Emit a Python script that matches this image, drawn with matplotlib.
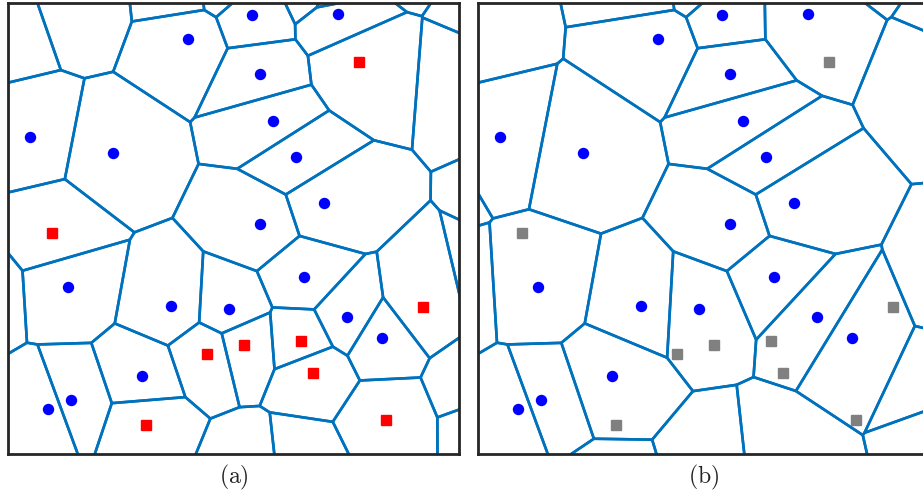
import numpy as np
import matplotlib
matplotlib.use("Agg")
import matplotlib.pyplot as plt
from matplotlib.collections import PolyCollection

plt.rcParams['mathtext.fontset'] = 'cm'

# sites inside the unit window
blue_x = [0.541, 0.7317, 0.3984, 0.5581, 0.0481, 0.2335, 0.5876, 0.6379, 0.7007, 0.5588,
          0.133, 0.3621, 0.4894, 0.6557, 0.7523, 0.8286, 0.2971, 0.1404, 0.088]
blue_y = [0.9716, 0.9745, 0.9184, 0.8421, 0.7024, 0.6663, 0.7373, 0.6581, 0.5561, 0.5089,
          0.3692, 0.3277, 0.3204, 0.3914, 0.302, 0.2554, 0.1718, 0.1186, 0.0993]
red_x = [0.7783, 0.0982, 0.9202, 0.4412, 0.5239, 0.649, 0.6763, 0.306, 0.8375]
red_y = [0.8687, 0.4896, 0.3255, 0.2206, 0.2406, 0.2501, 0.1792, 0.0632, 0.0736]

# generators lying outside the window (not drawn, only their cells show)
out_blue_x = [-0.0113, 0.38, 0.4767, 0.8492, 1.0898, 1.0421, 1.0854, 1.0366, 1.0665,
              0.5404, 0.6463, -0.0634, -0.133, 0.2927]
out_blue_y = [0.9508, 1.0339, 1.0455, 1.1275, 0.9623, 0.8481, 0.3647, 0.1574, 0.0743,
              -0.0328, -0.0211, 0.357, 0.5953, -0.1075]
out_red_x = [0.1552, 0.6818, 0.7228, 1.173]
out_red_y = [1.0089, 1.0384, 1.0204, 0.551]

edge_col = '#0072BD'
frame_col = '#262626'


def clip_halfplane(poly, m, n):
    # keep the part of poly with (p - m).n <= 0
    out = []
    for k in range(len(poly)):
        a = poly[k]
        b = poly[(k + 1) % len(poly)]
        da = np.dot(a - m, n)
        db = np.dot(b - m, n)
        if da <= 0:
            out.append(a)
        if da * db < 0:
            t = da / (da - db)
            out.append(a + t * (b - a))
    return out


def voronoi_cells(x, y, lo=-1.0, hi=2.0):
    pts = np.column_stack([x, y])
    cells = []
    for i, p in enumerate(pts):
        poly = [np.array([lo, lo]), np.array([hi, lo]),
                np.array([hi, hi]), np.array([lo, hi])]
        for j, q in enumerate(pts):
            if i == j:
                continue
            poly = clip_halfplane(poly, (p + q) / 2, q - p)
            if not poly:
                break
        if poly:
            cells.append(np.array(poly))
    return cells


fig = plt.figure(figsize=(9.23, 4.95), dpi=100)
W, H = 923, 495
ax_a = fig.add_axes([8 / W, (H - 453.5) / H, 451 / W, 451 / H])
ax_b = fig.add_axes([478 / W, (H - 453.5) / H, 451 / W, 451 / H])

# (a) all sites
xa = blue_x + red_x + out_blue_x + out_red_x
ya = blue_y + red_y + out_blue_y + out_red_y
ax_a.add_collection(PolyCollection(voronoi_cells(xa, ya), facecolors='none',
                                   edgecolors=edge_col, linewidths=1.9))
ax_a.plot(blue_x, blue_y, 'o', color='blue', ms=7.2, zorder=3)
ax_a.plot(red_x, red_y, 's', color='red', ms=7.2, zorder=3)

# (b) red sites removed
xb = blue_x + out_blue_x
yb = blue_y + out_blue_y
ax_b.add_collection(PolyCollection(voronoi_cells(xb, yb), facecolors='none',
                                   edgecolors=edge_col, linewidths=1.9))
ax_b.plot(blue_x, blue_y, 'o', color='blue', ms=7.2, zorder=3)
ax_b.plot(red_x, red_y, 's', color='gray', ms=7.2, zorder=3)

for ax in (ax_a, ax_b):
    ax.set_xlim(0, 1)
    ax.set_ylim(0, 1)
    ax.set_xticks([])
    ax.set_yticks([])
    for sp in ax.spines.values():
        sp.set_linewidth(2.0)
        sp.set_color(frame_col)
        sp.set_zorder(5)

fig.text(233.5 / W, 1 - 477 / H, r'$\mathrm{(a)}$', ha='center', va='center',
         fontsize=17, color='#222222')
fig.text(703.5 / W, 1 - 477 / H, r'$\mathrm{(b)}$', ha='center', va='center',
         fontsize=17, color='#222222')

fig.savefig('out.png', dpi=100)
